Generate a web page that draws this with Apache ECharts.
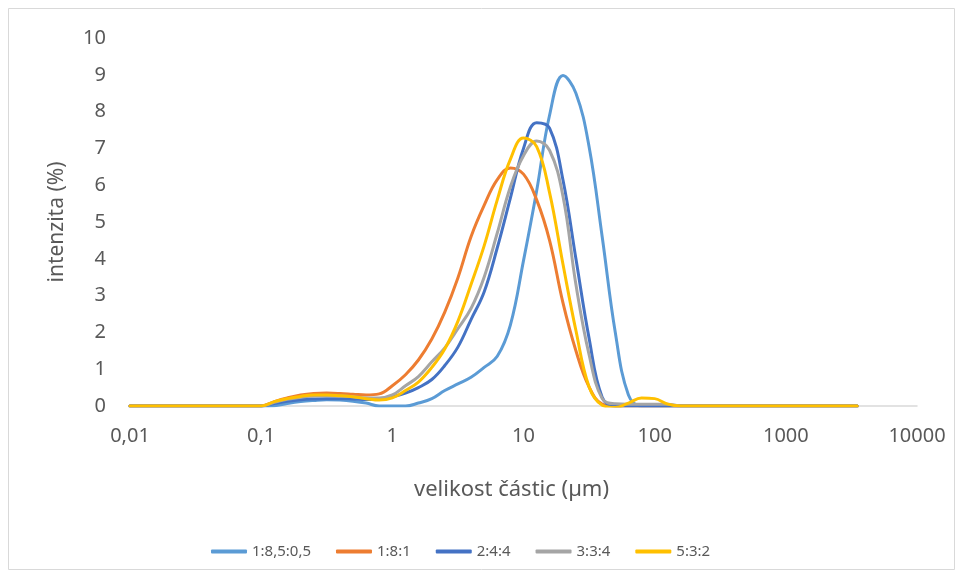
<!DOCTYPE html>
<html>
<head>
<meta charset="utf-8">
<script src="https://cdn.jsdelivr.net/npm/echarts@6/dist/echarts.min.js"></script>
<style>html,body{margin:0;padding:0;background:#fff}#c{width:963px;height:578px}</style>
</head>
<body>
<div id="c"></div>
<script>
const sizes = [0.01,0.0126,0.0158,0.02,0.0251,0.0316,0.0398,0.0501,0.0631,0.0794,
  0.1,0.126,0.158,0.2,0.251,0.316,0.398,0.501,0.631,0.794,
  1,1.26,1.58,2,2.51,3.16,3.98,5.01,6.31,7.94,
  10,12.6,15.8,20,25.1,31.6,39.8,50.1,63.1,79.4,
  100,126,158,200,251,316,398,501,631,794,
  1000,1260,1580,2000,2510,3160,3500];

const seriesNames = ['1:8,5:0,5','1:8:1','2:4:4','3:3:4','5:3:2'];

const s1 = [0,0,0,0,0,0,0,0,0,0,
  0,0.01,0.07,0.12,0.15,0.17,0.16,0.13,0.08,0,
  0,0,0.08,0.2,0.42,0.6,0.78,1.05,1.35,2.2,
  3.95,5.85,7.9,8.98,8.5,7.05,4.6,2.0,0.3,0,
  0,0,0,0,0,0,0,0,0,0,
  0,0,0,0,0,0,0];
const s2 = [0,0,0,0,0,0,0,0,0,0,
  0,0.12,0.22,0.3,0.34,0.35,0.34,0.32,0.3,0.33,
  0.55,0.85,1.25,1.82,2.55,3.48,4.6,5.45,6.15,6.47,
  6.3,5.6,4.5,2.8,1.5,0.52,0.05,0,0,0,
  0,0,0,0,0,0,0,0,0,0,
  0,0,0,0,0,0,0];
const s3 = [0,0,0,0,0,0,0,0,0,0,
  0,0.07,0.13,0.17,0.19,0.2,0.2,0.19,0.18,0.18,
  0.25,0.35,0.5,0.72,1.1,1.6,2.35,3.1,4.3,5.65,
  7.0,7.7,7.55,6.14,4.0,1.85,0.24,0,0,0,
  0,0,0,0,0,0,0,0,0,0,
  0,0,0,0,0,0,0];
const s4 = [0,0,0,0,0,0,0,0,0,0,
  0,0.1,0.18,0.24,0.27,0.28,0.27,0.25,0.22,0.22,
  0.3,0.55,0.8,1.2,1.58,2.1,2.65,3.5,4.7,5.95,
  6.8,7.2,6.95,5.7,3.3,1.4,0.2,0.06,0.05,0.05,
  0.05,0.05,0,0,0,0,0,0,0,0,
  0,0,0,0,0,0,0];
const s5 = [0,0,0,0,0,0,0,0,0,0,
  0,0.12,0.2,0.26,0.3,0.3,0.28,0.25,0.2,0.16,
  0.22,0.42,0.65,1.05,1.55,2.3,3.3,4.35,5.6,6.7,
  7.28,7.05,5.8,3.85,2.05,0.52,0.02,-0.04,0.08,0.22,
  0.2,0.05,0,0,0,0,0,0,0,0,
  0,0,0,0,0,0,0];

const allSeries = [s1,s2,s3,s4,s5];
const colors = ['#5B9BD5','#ED7D31','#4472C4','#A5A5A5','#FFC000'];
const xTitle = 'velikost částic (µm)';
const yTitle = 'intenzita (%)';

const FONT = 'Noto Sans';
const chart = echarts.init(document.getElementById('c'), null, {renderer:'canvas'});
chart.setOption({
  animation: false,
  backgroundColor: '#fff',
  color: colors,
  textStyle: {fontFamily: FONT},
  graphic: [{type:'rect', shape:{x:8.5,y:8.5,width:946,height:561}, style:{fill:'none', stroke:'#D9D9D9', lineWidth:1}, silent:true}],
  grid: {left:130, right:46, top:38, bottom:172},
  legend: {
    left: 206, top: 539, icon: 'roundRect', itemWidth: 36, itemHeight: 4, itemGap: 25,
    textStyle: {color:'#595959', fontSize:15, fontFamily: FONT},
    data: seriesNames
  },
  xAxis: {
    type: 'log', logBase: 10, min: 0.01, max: 10000,
    name: xTitle, nameLocation: 'middle', nameGap: 73,
    nameTextStyle: {color:'#595959', fontSize:22, fontFamily: FONT, padding: [0, 24, 0, 0]},
    axisLine: {show:true, lineStyle:{color:'#D9D9D9', width:1.5}},
    axisTick: {show:false},
    splitLine: {show:false},
    axisLabel: {color:'#595959', fontSize:20, fontFamily: FONT, margin: 20,
      formatter: v => String(Number(v.toPrecision(6))).replace('.', ',')}
  },
  yAxis: {
    type: 'value', min: 0, max: 10, interval: 1,
    name: yTitle, nameLocation: 'middle', nameGap: 62, nameRotate: 90,
    nameTextStyle: {color:'#595959', fontSize:21, fontFamily: FONT},
    axisLine: {show:false}, axisTick: {show:false}, splitLine: {show:false},
    axisLabel: {color:'#595959', fontSize:20, fontFamily: FONT, margin: 24}
  },
  series: allSeries.map((arr, i) => ({
    name: seriesNames[i], type: 'line', smooth: 0.4, symbol: 'none',
    lineStyle: {width: 3, color: colors[i], cap: 'round', join: 'round'},
    itemStyle: {color: colors[i]},
    data: sizes.map((s, j) => [s, arr[j]])
  }))
});
</script>
</body>
</html>
